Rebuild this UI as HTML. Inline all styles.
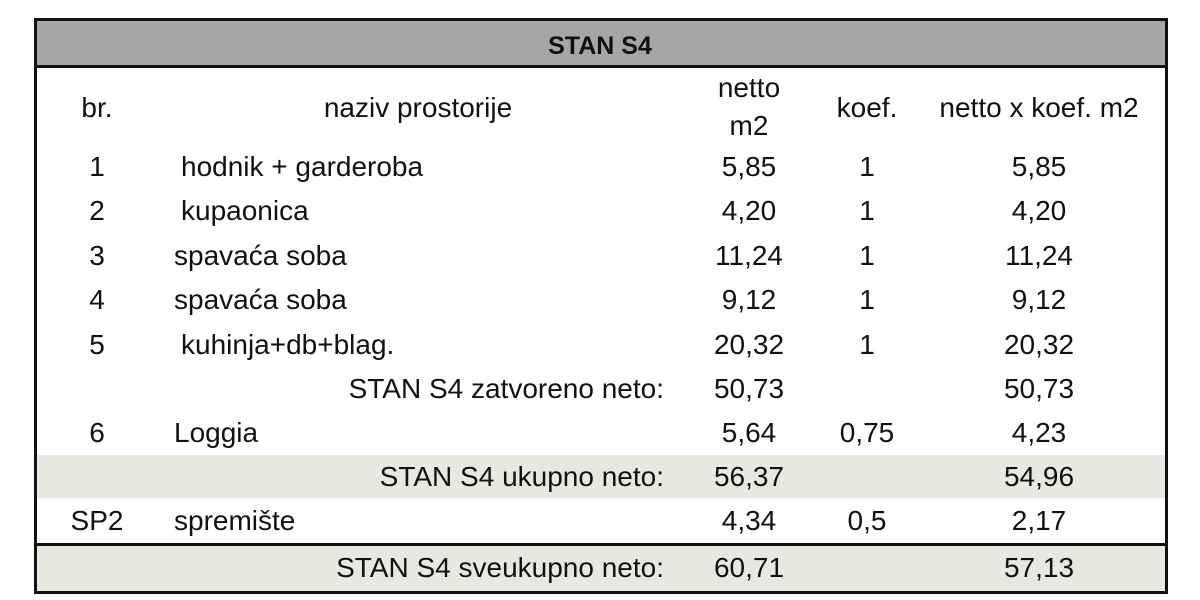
<!DOCTYPE html>
<html><head><meta charset="utf-8"><style>
body{margin:0;width:1200px;height:600px;background:#fff;position:relative;overflow:hidden;font-family:"Liberation Sans",sans-serif;color:#111;}
.t{position:absolute;font-size:28px;line-height:30px;white-space:nowrap;}
.c{transform:translateX(-50%);}
.r{transform:translateX(-100%);}
.box{position:absolute;}
</style></head><body>
<div class="box" style="left:34px;top:18px;width:1128px;height:570px;border:3px solid #111;"></div>
<div class="box" style="left:37px;top:21px;width:1128px;height:44px;background:#a6a6a6;border-bottom:3px solid #111;"></div>
<div class="box" style="left:37px;top:455px;width:1128px;height:43px;background:#e9e8e0;"></div>
<div class="box" style="left:37px;top:543px;width:1128px;height:45px;background:#e9e8e0;border-top:3px solid #111;"></div>
<div class="t c" style="left:600px;top:31px;font-weight:bold;font-size:25px;">STAN S4</div>
<div class="t c" style="left:97px;top:93px;">br.</div>
<div class="t c" style="left:418px;top:93px;">naziv prostorije</div>
<div class="t c" style="left:749px;top:73px;">netto</div>
<div class="t c" style="left:749px;top:111px;">m2</div>
<div class="t c" style="left:867px;top:93px;">koef.</div>
<div class="t c" style="left:1039px;top:93px;">netto x koef. m2</div>

<div class="t c" style="left:97px;top:152px;">1</div><div class="t" style="left:181px;top:152px;">hodnik + garderoba</div><div class="t c" style="left:749px;top:152px;">5,85</div><div class="t c" style="left:867px;top:152px;">1</div><div class="t c" style="left:1039px;top:152px;">5,85</div>
<div class="t c" style="left:97px;top:196px;">2</div><div class="t" style="left:181px;top:196px;">kupaonica</div><div class="t c" style="left:749px;top:196px;">4,20</div><div class="t c" style="left:867px;top:196px;">1</div><div class="t c" style="left:1039px;top:196px;">4,20</div>
<div class="t c" style="left:97px;top:241px;">3</div><div class="t" style="left:174px;top:241px;">spavaća soba</div><div class="t c" style="left:749px;top:241px;">11,24</div><div class="t c" style="left:867px;top:241px;">1</div><div class="t c" style="left:1039px;top:241px;">11,24</div>
<div class="t c" style="left:97px;top:285px;">4</div><div class="t" style="left:174px;top:285px;">spavaća soba</div><div class="t c" style="left:749px;top:285px;">9,12</div><div class="t c" style="left:867px;top:285px;">1</div><div class="t c" style="left:1039px;top:285px;">9,12</div>
<div class="t c" style="left:97px;top:330px;">5</div><div class="t" style="left:181px;top:330px;">kuhinja+db+blag.</div><div class="t c" style="left:749px;top:330px;">20,32</div><div class="t c" style="left:867px;top:330px;">1</div><div class="t c" style="left:1039px;top:330px;">20,32</div>
<div class="t r" style="left:664px;top:374px;">STAN S4 zatvoreno neto:</div><div class="t c" style="left:749px;top:374px;">50,73</div><div class="t c" style="left:1039px;top:374px;">50,73</div>
<div class="t c" style="left:97px;top:418px;">6</div><div class="t" style="left:174px;top:418px;">Loggia</div><div class="t c" style="left:749px;top:418px;">5,64</div><div class="t c" style="left:867px;top:418px;">0,75</div><div class="t c" style="left:1039px;top:418px;">4,23</div>
<div class="t r" style="left:664px;top:462px;">STAN S4 ukupno neto:</div><div class="t c" style="left:749px;top:462px;">56,37</div><div class="t c" style="left:1039px;top:462px;">54,96</div>
<div class="t c" style="left:97px;top:506px;">SP2</div><div class="t" style="left:174px;top:506px;">spremište</div><div class="t c" style="left:749px;top:506px;">4,34</div><div class="t c" style="left:867px;top:506px;">0,5</div><div class="t c" style="left:1039px;top:506px;">2,17</div>
<div class="t r" style="left:664px;top:553px;">STAN S4 sveukupno neto:</div><div class="t c" style="left:749px;top:553px;">60,71</div><div class="t c" style="left:1039px;top:553px;">57,13</div>
</body></html>
